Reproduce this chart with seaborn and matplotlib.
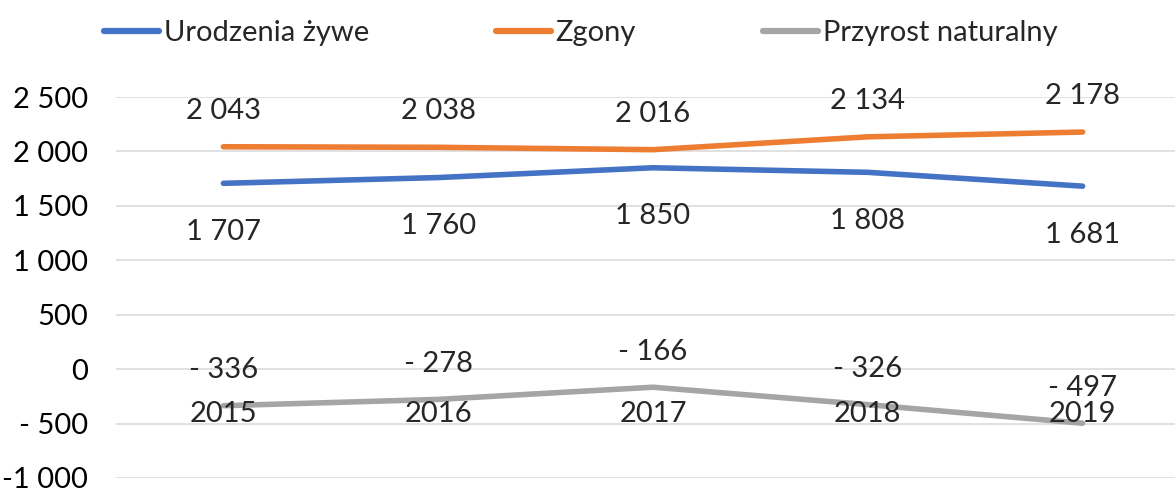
import pandas as pd
import matplotlib.pyplot as plt
import seaborn as sns

# Dane
lata = ["2015", "2016", "2017", "2018", "2019"]
urodzenia = [1707, 1760, 1850, 1808, 1681]
zgony = [2043, 2038, 2016, 2134, 2178]
przyrost = [-336, -278, -166, -326, -497]

serie = ["Urodzenia żywe", "Zgony", "Przyrost naturalny"]
kolory = ["#4472C4", "#ED7D31", "#A5A5A5"]

y_ticks = [-1000, -500, 0, 500, 1000, 1500, 2000, 2500]
y_labels = ["-1 000", "- 500", "0", "500", "1 000", "1 500", "2 000", "2 500"]

FS = 21


def fmt(v):
    s = f"{abs(v):,}".replace(",", " ")
    return "- " + s if v < 0 else s


def main():
    df = pd.DataFrame({
        "Rok": lata * 3,
        "Wartosc": urodzenia + zgony + przyrost,
        "Seria": [serie[0]] * 5 + [serie[1]] * 5 + [serie[2]] * 5,
    })
    df["x"] = df["Rok"].map({r: i for i, r in enumerate(lata)})

    sns.set_theme(style="white")
    plt.rcParams["font.family"] = ["Lato", "DejaVu Sans"]

    fig = plt.figure(figsize=(11.75, 4.88), dpi=100)
    ax = fig.add_axes([116 / 1175, 10 / 488, 1074 / 1175, 381 / 488])

    sns.lineplot(data=df, x="x", y="Wartosc", hue="Seria", hue_order=serie,
                 palette=kolory, linewidth=4.0, ax=ax, legend=False,
                 solid_capstyle="round")

    ax.set_xlim(-0.5, 4.5)
    ax.set_ylim(-1000, 2500)
    ax.set_yticks(y_ticks, y_labels)
    ax.set_xticks([])
    ax.set_xlabel("")
    ax.set_ylabel("")
    ax.grid(axis="y", color="#D9D9D9", linewidth=1.1)
    ax.set_axisbelow(True)
    for s in ["left", "right", "top", "bottom"]:
        ax.spines[s].set_visible(False)
    ax.tick_params(axis="y", length=0, pad=20, labelsize=FS, colors="black")

    # Etykiety osi kategorii (przy linii zera), nad liniami jak w Excelu
    for i, rok in enumerate(lata):
        ax.annotate(rok, (i, 0), xytext=(0, -32), textcoords="offset points",
                    ha="center", va="center", fontsize=FS, zorder=5)

    # Etykiety danych
    for i in range(len(lata)):
        ax.annotate(fmt(zgony[i]), (i, zgony[i]), xytext=(0, 26),
                    textcoords="offset points", ha="center", va="center",
                    fontsize=FS, annotation_clip=False)
        ax.annotate(fmt(urodzenia[i]), (i, urodzenia[i]), xytext=(0, -35),
                    textcoords="offset points", ha="center", va="center",
                    fontsize=FS)
        ax.annotate(fmt(przyrost[i]), (i, przyrost[i]), xytext=(0, 25.5),
                    textcoords="offset points", ha="center", va="center",
                    fontsize=FS)

    handles = [plt.Line2D([], [], color=c, linewidth=4.5, solid_capstyle="round")
               for c in kolory]
    fig.legend(handles, serie, loc="center left", bbox_to_anchor=(104 / 1175, 1 - 33 / 488),
               ncol=3, frameon=False, fontsize=FS, handlelength=1.9,
               handletextpad=0.15, columnspacing=4.35, borderpad=0, borderaxespad=0)

    plt.savefig("out.png", dpi=100)


if __name__ == "__main__":
    main()
